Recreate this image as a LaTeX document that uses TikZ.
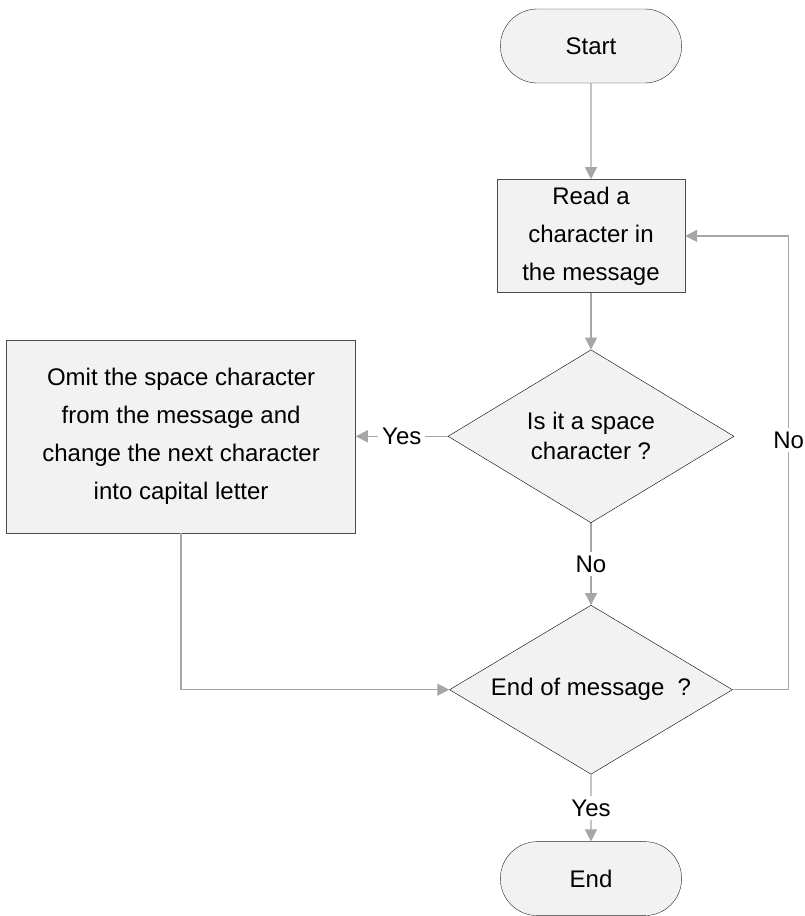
\documentclass[tikz,border=0pt]{standalone}
\usepackage{fontspec}
\setmainfont{Liberation Sans}
\usetikzlibrary{positioning,shapes,arrows.meta}

\begin{document}
\begin{tikzpicture}[x=1pt, y=-1pt,
	>={Triangle[length=12pt,width=12pt]},
	every node/.style={font=\fontsize{24}{38}\selectfont},
	terminal/.style={rounded rectangle, draw=black!85, fill=black!5, minimum width=188pt, minimum height=74pt},
	process/.style={rectangle, draw=black!70, fill=black!5, align=center, inner sep=0pt},
	decision/.style={diamond, aspect=1.67, draw=black, fill=black!5, align=center, inner sep=0pt},
	flow/.style={black!35, line width=1.3pt, ->},
	lbl/.style={fill=white, text=black, inner sep=4pt}]
\useasboundingbox (0,0) rectangle (805,916);
\node[terminal](1) at (591,46){Start};
\node[process, minimum width=188pt, minimum height=113pt](2)[below = 96pt of 1]{Read a\\character in\\the message};
\node[decision, minimum width=286pt, minimum height=173pt, font=\fontsize{24}{30}\selectfont](3)[below = 57pt of 2]{Is it a space\\character ?};
\node[process, minimum width=349pt, minimum height=193pt](4)[left = 92pt of 3]{Omit the space character\\from the message and\\change the next character\\into capital letter};
\node[decision, minimum width=283pt, minimum height=169pt](5)[below = 82pt of 3]{End of message\ \ ?};
\node[terminal](6)[below = 67pt of 5]{End};

\path[flow]
	(1) edge (2)
	(2) edge (3)
	(3) edge node[lbl]{Yes} (4)
	(3) edge node[lbl]{No} (5)
	(5) edge node[lbl]{Yes} (6);
\draw[flow] (4) |- (5);
\draw[flow] (5.east) -- ++(56,0) |- node[lbl, pos=0.275]{No} (2);
\end{tikzpicture}
\end{document}
